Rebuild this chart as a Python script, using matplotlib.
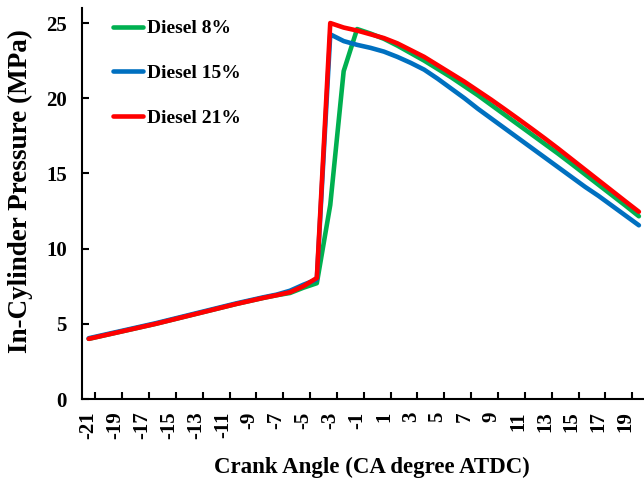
import matplotlib
matplotlib.use("Agg")
import matplotlib.pyplot as plt
from matplotlib.ticker import FixedLocator

crank_angle = list(range(-21, 21))

compression = [4.0, 4.2, 4.4, 4.6, 4.8, 5.0, 5.22, 5.44, 5.66, 5.88, 6.1,
               6.32, 6.52, 6.72, 6.9]  # -21 .. -7

diesel_8 = compression + [7.05, 7.4, 7.7, 12.9, 21.8, 24.6, 24.3, 23.95, 23.5,
                          23.0, 22.5, 21.95, 21.4, 20.8, 20.2, 19.55, 18.9, 18.25,
                          17.6, 16.95, 16.3, 15.62, 14.93, 14.24, 13.55, 12.86, 12.15]
diesel_15 = [v + 0.04 for v in compression] + [7.2, 7.6, 7.95, 24.25, 23.8, 23.55,
                          23.35, 23.1, 22.75, 22.35, 21.9, 21.3, 20.65, 20.0, 19.3,
                          18.65, 18.0, 17.35, 16.7, 16.05, 15.4, 14.75, 14.1, 13.5,
                          12.85, 12.2, 11.55]
diesel_21 = compression + [7.1, 7.5, 8.05, 25.0, 24.7, 24.5, 24.25, 24.0, 23.65,
                           23.2, 22.75, 22.2, 21.65, 21.1, 20.5, 19.9, 19.27, 18.63,
                           17.98, 17.32, 16.64, 15.94, 15.24, 14.54, 13.84, 13.14, 12.45]

series = [("Diesel 8%", diesel_8, "#00B050"),
          ("Diesel 15%", diesel_15, "#0070C0"),
          ("Diesel 21%", diesel_21, "#FF0000")]

x_labels = [str(v) for v in range(-21, 20, 2)]

plt.rcParams['font.family'] = ['Liberation Serif', 'DejaVu Serif']
plt.rcParams['font.weight'] = 'bold'

fig = plt.figure(figsize=(6.44, 4.86), dpi=100)
ax = fig.add_axes([82/644, (486-399)/486, 563.6/644, (399-8)/486])

for name, vals, col in series:
    ax.plot(crank_angle, vals, color=col, lw=3.3, label=name,
            solid_capstyle='round', solid_joinstyle='round')

ax.set_xlim(-21.5, 20.5)
ax.set_ylim(0, 26)
ax.set_yticks([0, 5, 10, 15, 20, 25])
ax.set_xticks(list(range(-21, 20, 2)))
ax.set_xticklabels(x_labels, rotation=90)
ax.xaxis.set_minor_locator(FixedLocator([v + 0.5 for v in range(-21, 20, 2)]))

ax.tick_params(axis='x', which='major', length=0, pad=9, labelsize=15)
ax.tick_params(axis='x', which='minor', direction='in', length=5, width=1.5)
ax.tick_params(axis='y', direction='in', length=5, width=1.5, pad=11, labelsize=15)

for s in ['top', 'right']:
    ax.spines[s].set_visible(False)
for s in ['left', 'bottom']:
    ax.spines[s].set_linewidth(1.5)

ax.set_xlabel("Crank Angle (CA degree ATDC)", fontsize=16.5, fontweight='bold', labelpad=13)
ax.xaxis.label.set_x(0.514)
ax.set_ylabel("In-Cylinder Pressure (MPa)", fontsize=19.5, fontweight='bold', labelpad=9)
ax.yaxis.label.set_y(0.532)

ax.legend(loc='upper left', bbox_to_anchor=(0.055, 0.97), frameon=False,
          fontsize=14, handlelength=1.55, handletextpad=0.2,
          labelspacing=1.4, borderpad=0, borderaxespad=0)

fig.savefig("out.png", dpi=100)
